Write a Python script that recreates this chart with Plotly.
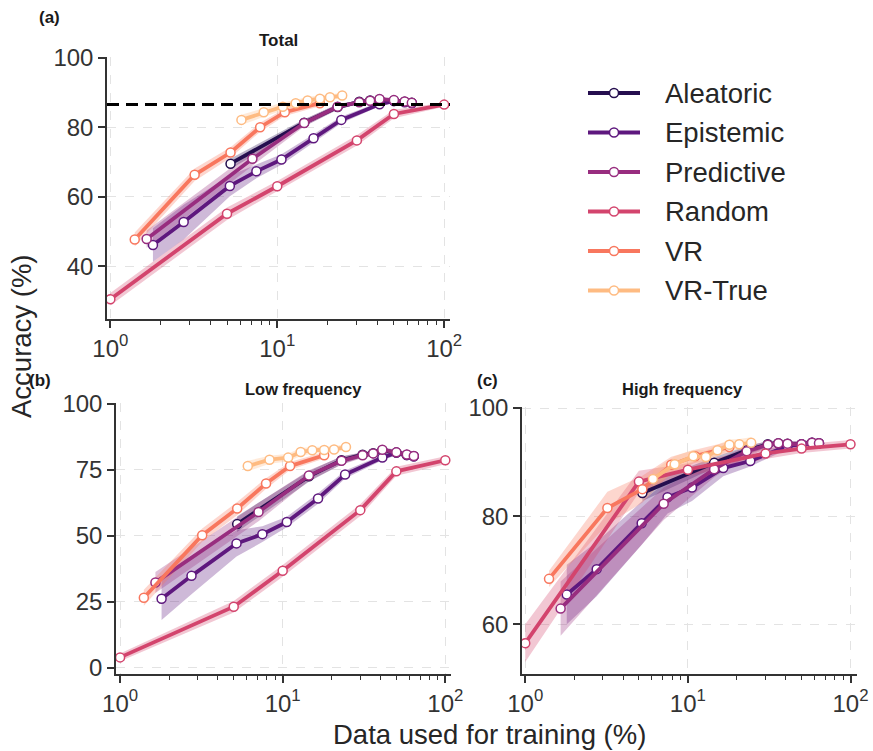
import plotly.graph_objects as go

W, H = 873, 751

SERIES = ["Aleatoric", "Epistemic", "Predictive", "Random", "VR", "VR-True"]
COLORS = ["#250e4f", "#5e187e", "#982d7f", "#d3446d", "#f8775e", "#febb82"]

# x positions (% of data used for training), shared by all panels
ALEATORIC_X = [5.25, 14.5, 23, 31, 36, 41, 50, 58, 64]
EPISTEMIC_X = [1.8, 2.75, 5.2, 7.5, 10.6, 16.5, 24.2, 41, 50, 58, 64]
PREDICTIVE_X = [1.65, 7.1, 14.5, 23, 31, 36, 41, 50, 58, 64]
RANDOM_X = [1, 5, 10, 30, 50, 100]
VR_X = [1.4, 3.2, 5.25, 7.9, 11.1, 18]
VRTRUE_X = [6.1, 8.3, 10.8, 12.9, 15.2, 18, 20.7, 24.5]

# (a) Total accuracy
TOTAL_ALEATORIC = [69.5, 81.3, 85.8, 87.3, 87.7, 88.0, 87.7, 87.3, 87.0]
TOTAL_EPISTEMIC = [46.1, 52.7, 63.1, 67.3, 70.7, 76.8, 82.1, 86.6, 87.5, 87.2, 86.9]
TOTAL_PREDICTIVE = [47.8, 70.9, 81.2, 85.9, 87.2, 87.6, 88.1, 87.8, 87.4, 87.0]
TOTAL_RANDOM = [30.5, 55.1, 63.0, 76.2, 83.8, 86.5]
TOTAL_VR = [47.7, 66.3, 72.7, 80.0, 84.3, 86.9]
TOTAL_VRTRUE = [82.1, 84.3, 85.9, 86.9, 87.7, 88.2, 88.6, 89.1]
TOTAL_FULL_DATA = 86.5

TOTAL_ALEATORIC_SD = [1.5, 1.0, 0.8, 0.5, 0.5, 0.5, 0.5, 0.5, 0.5]
TOTAL_EPISTEMIC_SD = [4.8, 5.0, 3.0, 2.0, 1.5, 1.2, 1.0, 0.6, 0.5, 0.5, 0.5]
TOTAL_PREDICTIVE_SD = [2.5, 2.0, 1.0, 0.8, 0.5, 0.5, 0.5, 0.5, 0.5, 0.5]
TOTAL_RANDOM_SD = [1.8, 1.8, 1.5, 1.5, 1.2, 0.6]
TOTAL_VR_SD = [2.0, 1.8, 1.5, 1.3, 1.1, 0.9]
TOTAL_VRTRUE_SD = [1.5, 1.3, 1.2, 1.0, 1.0, 1.0, 0.8, 0.8]

# (b) Low frequency accuracy
LOW_ALEATORIC = [54.4, 72.5, 78.6, 80.7, 81.3, 82.4, 81.5, 80.6, 80.1]
LOW_EPISTEMIC = [26.1, 34.8, 47.1, 50.6, 55.2, 64.1, 73.2, 79.6, 81.5, 80.6, 80.1]
LOW_PREDICTIVE = [32.3, 59.0, 72.8, 78.4, 80.5, 81.2, 82.6, 81.6, 80.8, 80.2]
LOW_RANDOM = [3.9, 23.1, 36.7, 59.7, 74.4, 78.6]
LOW_VR = [26.5, 50.2, 60.3, 69.8, 76.4, 80.5]
LOW_VRTRUE = [76.4, 78.8, 79.6, 81.7, 82.4, 82.5, 82.7, 83.6]

LOW_ALEATORIC_SD = [3.0, 2.0, 1.5, 1.0, 1.0, 1.0, 1.0, 1.0, 1.0]
LOW_EPISTEMIC_SD = [8.0, 7.0, 5.0, 3.0, 2.0, 2.0, 1.5, 1.0, 1.0, 1.0, 1.0]
LOW_PREDICTIVE_SD = [4.0, 3.5, 2.0, 1.5, 1.0, 1.0, 1.0, 1.0, 1.0, 1.0]
LOW_RANDOM_SD = [1.5, 2.2, 2.2, 2.2, 1.7, 1.5]
LOW_VR_SD = [3.0, 2.5, 2.5, 2.0, 1.5, 1.2]
LOW_VRTRUE_SD = [2.0, 1.5, 1.5, 1.5, 1.2, 1.2, 1.2, 1.2]

# (c) High frequency accuracy
HIGH_ALEATORIC = [84.3, 89.9, 92.2, 93.3, 93.5, 93.4, 93.3, 93.6, 93.5]
HIGH_EPISTEMIC = [65.5, 70.2, 78.7, 83.5, 85.3, 88.9, 90.2, 93.0, 93.3, 93.6, 93.5]
HIGH_PREDICTIVE = [62.9, 82.3, 88.7, 92.0, 93.2, 93.5, 93.4, 93.3, 93.6, 93.5]
HIGH_RANDOM = [56.5, 86.4, 88.6, 91.6, 92.5, 93.3]
HIGH_VR = [68.4, 81.5, 85.0, 89.5, 91.1, 92.8]
HIGH_VRTRUE = [86.9, 89.6, 91.1, 90.95, 92.2, 93.2, 93.3, 93.6]

HIGH_ALEATORIC_SD = [1.5, 1.0, 0.8, 0.6, 0.5, 0.5, 0.5, 0.5, 0.5]
HIGH_EPISTEMIC_SD = [5.5, 5.0, 4.0, 3.0, 2.5, 1.5, 1.0, 0.6, 0.5, 0.5, 0.5]
HIGH_PREDICTIVE_SD = [5.0, 3.0, 1.5, 1.0, 0.6, 0.5, 0.5, 0.5, 0.5, 0.5]
HIGH_RANDOM_SD = [3.5, 2.0, 1.2, 1.0, 0.8, 0.8]
HIGH_VR_SD = [1.5, 3.0, 2.5, 1.5, 1.2, 1.0]
HIGH_VRTRUE_SD = [1.5, 1.5, 1.2, 1.2, 1.0, 1.0, 1.0, 1.0]

X_TICKS = [1, 10, 100]
X_TICK_TEXT = ["10<sup>0</sup>", "10<sup>1</sup>", "10<sup>2</sup>"]
X_MINOR = [2, 3, 4, 5, 6, 7, 8, 9, 20, 30, 40, 50, 60, 70, 80, 90]
Y_TICKS_A = [40, 60, 80, 100]
Y_TICKS_B = [0, 25, 50, 75, 100]
Y_TICKS_C = [60, 80, 100]

XS = [ALEATORIC_X, EPISTEMIC_X, PREDICTIVE_X, RANDOM_X, VR_X, VRTRUE_X]
PANELS = [
    ("x", "y", [TOTAL_ALEATORIC, TOTAL_EPISTEMIC, TOTAL_PREDICTIVE, TOTAL_RANDOM, TOTAL_VR, TOTAL_VRTRUE],
     [TOTAL_ALEATORIC_SD, TOTAL_EPISTEMIC_SD, TOTAL_PREDICTIVE_SD, TOTAL_RANDOM_SD, TOTAL_VR_SD, TOTAL_VRTRUE_SD]),
    ("x2", "y2", [LOW_ALEATORIC, LOW_EPISTEMIC, LOW_PREDICTIVE, LOW_RANDOM, LOW_VR, LOW_VRTRUE],
     [LOW_ALEATORIC_SD, LOW_EPISTEMIC_SD, LOW_PREDICTIVE_SD, LOW_RANDOM_SD, LOW_VR_SD, LOW_VRTRUE_SD]),
    ("x3", "y3", [HIGH_ALEATORIC, HIGH_EPISTEMIC, HIGH_PREDICTIVE, HIGH_RANDOM, HIGH_VR, HIGH_VRTRUE],
     [HIGH_ALEATORIC_SD, HIGH_EPISTEMIC_SD, HIGH_PREDICTIVE_SD, HIGH_RANDOM_SD, HIGH_VR_SD, HIGH_VRTRUE_SD]),
]


def rgba(hexc, a):
    h = hexc.lstrip("#")
    return "rgba(%d,%d,%d,%.2f)" % (int(h[0:2], 16), int(h[2:4], 16), int(h[4:6], 16), a)


fig = go.Figure()

# bands first (below all lines)
for xa, ya, ys, sds in PANELS:
    for i, name in enumerate(SERIES):
        x = XS[i]
        up = [v + s for v, s in zip(ys[i], sds[i])]
        lo = [v - s for v, s in zip(ys[i], sds[i])]
        fig.add_trace(go.Scatter(
            x=x + x[::-1], y=up + lo[::-1], xaxis=xa, yaxis=ya,
            fill="toself", fillcolor=rgba(COLORS[i], 0.3),
            line=dict(width=0), mode="lines", hoverinfo="skip", showlegend=False))

for p, (xa, ya, ys, sds) in enumerate(PANELS):
    for i, name in enumerate(SERIES):
        fig.add_trace(go.Scatter(
            x=XS[i], y=ys[i], xaxis=xa, yaxis=ya, name=name,
            showlegend=False,
            mode="lines+markers",
            line=dict(color=COLORS[i], width=3.8),
            marker=dict(size=9, color="white", line=dict(color=COLORS[i], width=1.5))))


def fx(px):
    return px / W


def fy(py):
    return 1 - py / H


FONT = "Liberation Sans, Arial, sans-serif"
TICKFONT = dict(family=FONT, size=24, color="#333333")

common_x = dict(type="log", showline=True, linecolor="#333333", linewidth=1.5,
                ticks="outside", ticklen=7, tickwidth=1.5, tickcolor="#333333",
                tickmode="array", tickvals=X_TICKS, ticktext=X_TICK_TEXT,
                minor=dict(tickmode="array", tickvals=X_MINOR, ticks="outside", ticklen=4,
                           tickwidth=1.2, tickcolor="#333333", showgrid=False),
                showgrid=True, gridcolor="#e3e3e3", griddash="dash", gridwidth=1,
                zeroline=False, tickfont=TICKFONT, automargin=False)
common_y = dict(showline=True, linecolor="#333333", linewidth=1.5,
                ticks="outside", ticklen=7, tickwidth=1.5, tickcolor="#333333",
                tickmode="array",
                showgrid=True, gridcolor="#e3e3e3", griddash="dash", gridwidth=1,
                zeroline=False, tickfont=TICKFONT, automargin=False)

fig.update_layout(
    width=W, height=H,
    margin=dict(l=0, r=0, t=0, b=0, pad=0),
    paper_bgcolor="white", plot_bgcolor="white",
    font=dict(family=FONT, color="#333333"),
    xaxis=dict(common_x, domain=[fx(107), fx(450)], range=[-0.02, 2.035], anchor="y"),
    yaxis=dict(common_y, domain=[fy(319), fy(57)], range=[24.8, 100.2], tickvals=Y_TICKS_A, anchor="x"),
    xaxis2=dict(common_x, domain=[fx(116), fx(451)], range=[-0.025, 2.035], anchor="y2"),
    yaxis2=dict(common_y, domain=[fy(674), fy(403)], range=[-2.4, 100.3], tickvals=Y_TICKS_B, anchor="x2"),
    xaxis3=dict(common_x, domain=[fx(522), fx(857)], range=[-0.02, 2.04], anchor="y3"),
    yaxis3=dict(common_y, domain=[fy(674), fy(407)], range=[50.8, 100.2], tickvals=Y_TICKS_C, anchor="x3"),
    showlegend=False,
)

fig.add_shape(type="line", xref="x domain", yref="y", x0=0, x1=1,
              y0=TOTAL_FULL_DATA, y1=TOTAL_FULL_DATA,
              line=dict(color="black", width=3, dash="12px,7px"))

# legend (drawn as layout decorations)
LEG_X0, LEG_X1, LEG_TX, LEG_Y0, LEG_DY = 588, 640, 663, 93, 39.5
for i, name in enumerate(SERIES):
    yy = LEG_Y0 + LEG_DY * i
    fig.add_shape(type="line", xref="paper", yref="paper",
                  x0=fx(LEG_X0), x1=fx(LEG_X1), y0=fy(yy), y1=fy(yy),
                  line=dict(color=COLORS[i], width=3.8))
    cx = (LEG_X0 + LEG_X1) / 2
    fig.add_shape(type="circle", xref="paper", yref="paper",
                  x0=fx(cx - 4.5), x1=fx(cx + 4.5), y0=fy(yy + 4.5), y1=fy(yy - 4.5),
                  fillcolor="white", line=dict(color=COLORS[i], width=1.5))
    fig.add_annotation(text=name, x=fx(LEG_TX), y=fy(yy), xref="paper", yref="paper",
                       xanchor="left", yanchor="middle", showarrow=False,
                       font=dict(family=FONT, size=27.5, color="#262626"))

ann = [
    ("(a)", 49, 18, 17, True, 0),
    ("Total", 278, 40, 17, True, 0),
    ("(b)", 40, 380, 17, True, 0),
    ("Low frequency", 303, 389, 16.5, True, 0),
    ("(c)", 487, 380, 17, True, 0),
    ("High frequency", 682, 389, 16.5, True, 0),
    ("Accuracy (%)", 21, 336, 27.5, False, -90),
    ("Data used for training (%)", 489, 734, 27.5, False, 0),
]
for text, px, py, size, bold, ang in ann:
    fig.add_annotation(text=("<b>%s</b>" % text) if bold else text,
                       x=fx(px), y=fy(py), xref="paper", yref="paper",
                       xanchor="center", yanchor="middle", showarrow=False,
                       textangle=ang,
                       font=dict(family=FONT, size=size, color="#262626" if not bold else "#1a1a1a"))

fig.write_html("out.html")
